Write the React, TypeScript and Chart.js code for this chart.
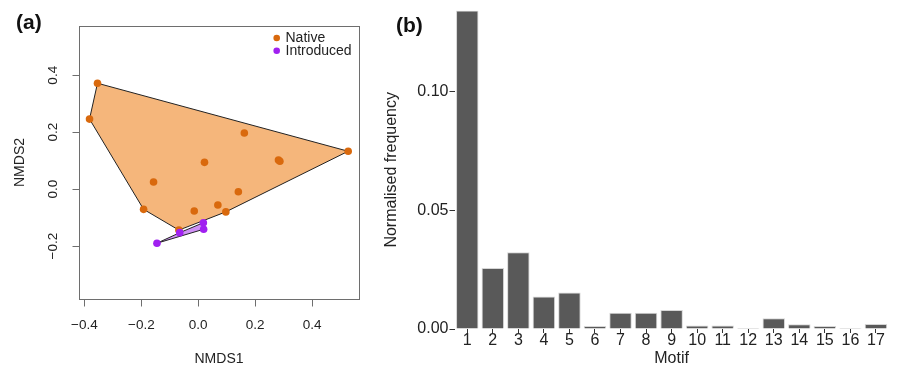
import React, { useEffect, useRef } from "react";
import { Chart, registerables } from "chart.js";

Chart.register(...registerables);

// ---------- Panel (a): NMDS ordination ----------
const nativeX = [-0.354, -0.382, 0.162, 0.022, 0.282, 0.287, 0.527, -0.157, 0.141, -0.192, -0.014, 0.069, 0.097, -0.068];
const nativeY = [0.372, 0.246, 0.197, 0.094, 0.102, 0.098, 0.133, 0.025, -0.009, -0.071, -0.077, -0.056, -0.080, -0.144];
const introX = [-0.145, -0.065, 0.018, 0.019];
const introY = [-0.19, -0.153, -0.118, -0.141];
const nmdsXTicks = [-0.4, -0.2, 0, 0.2, 0.4];
const nmdsYTicks = [-0.2, 0, 0.2, 0.4];
const nmdsXRange = [-0.419, 0.565];
const nmdsYRange = [-0.386, 0.573];
const groupNames = ["Native", "Introduced"];

// ---------- Panel (b): motif frequencies ----------
const motifs = ["1", "2", "3", "4", "5", "6", "7", "8", "9", "10", "11", "12", "13", "14", "15", "16", "17"];
const motifFreq = [0.134, 0.0257, 0.0323, 0.0137, 0.0154, 0.0013, 0.0068, 0.0068, 0.008, 0.0015, 0.0015, 0, 0.0045, 0.002, 0.0013, 0, 0.0021];
const freqTicks = [0, 0.05, 0.1];

const FONT = '"Liberation Sans", Arial, Helvetica, sans-serif';
const ORANGE = "#d9690d";
const ORANGE_FILL = "#f5b67b";
const PURPLE = "#a020f0";
const PURPLE_FILL = "#cf90f5";

type P = { x: number; y: number };

function convexHull(pts: P[]): P[] {
  const s = [...pts].sort((a, b) => (a.x === b.x ? a.y - b.y : a.x - b.x));
  const cross = (o: P, a: P, b: P) => (a.x - o.x) * (b.y - o.y) - (a.y - o.y) * (b.x - o.x);
  const lower: P[] = [];
  for (const p of s) {
    while (lower.length >= 2 && cross(lower[lower.length - 2], lower[lower.length - 1], p) <= 0) lower.pop();
    lower.push(p);
  }
  const upper: P[] = [];
  for (let i = s.length - 1; i >= 0; i--) {
    const p = s[i];
    while (upper.length >= 2 && cross(upper[upper.length - 2], upper[upper.length - 1], p) <= 0) upper.pop();
    upper.push(p);
  }
  const h = lower.slice(0, -1).concat(upper.slice(0, -1));
  h.push(h[0]);
  return h;
}

const fmtA = (t: number) => (t < -1e-9 ? "\u2212" : "") + Math.abs(t).toFixed(1);

const panelAPlugin = {
  id: "panelA",
  afterDraw(chart: any) {
    const { ctx, chartArea: a, scales } = chart;
    const xs = scales.x;
    const ys = scales.y;
    ctx.save();
    ctx.strokeStyle = "#6e6e6e";
    ctx.lineWidth = 1;
    const L = Math.round(a.left) + 0.5;
    const T = Math.round(a.top) + 0.5;
    const R = Math.round(a.right) + 0.5;
    const B = Math.round(a.bottom) + 0.5;
    ctx.strokeRect(L, T, R - L, B - T);

    // x axis
    ctx.beginPath();
    ctx.moveTo(xs.getPixelForValue(nmdsXTicks[0]), B);
    ctx.lineTo(xs.getPixelForValue(nmdsXTicks[nmdsXTicks.length - 1]), B);
    for (const t of nmdsXTicks) {
      const px = Math.round(xs.getPixelForValue(t)) + 0.5;
      ctx.moveTo(px, B);
      ctx.lineTo(px, B + 7);
    }
    // y axis
    ctx.moveTo(L, ys.getPixelForValue(nmdsYTicks[0]));
    ctx.lineTo(L, ys.getPixelForValue(nmdsYTicks[nmdsYTicks.length - 1]));
    for (const t of nmdsYTicks) {
      const py = Math.round(ys.getPixelForValue(t)) + 0.5;
      ctx.moveTo(L, py);
      ctx.lineTo(L - 7, py);
    }
    ctx.stroke();

    ctx.fillStyle = "#222";
    ctx.font = `13.5px ${FONT}`;
    ctx.textAlign = "center";
    ctx.textBaseline = "middle";
    for (const t of nmdsXTicks) ctx.fillText(fmtA(t), xs.getPixelForValue(t), a.bottom + 26);
    for (const t of nmdsYTicks) {
      ctx.save();
      ctx.translate(a.left - 26, ys.getPixelForValue(t));
      ctx.rotate(-Math.PI / 2);
      ctx.fillText(fmtA(t), 0, 0);
      ctx.restore();
    }

    // axis titles
    ctx.font = `14px ${FONT}`;
    ctx.fillText("NMDS1", (a.left + a.right) / 2, a.bottom + 60);
    ctx.save();
    ctx.translate(20, (a.top + a.bottom) / 2);
    ctx.rotate(-Math.PI / 2);
    ctx.fillText("NMDS2", 0, 0);
    ctx.restore();

    // legend
    const colors = [ORANGE, PURPLE];
    ctx.textAlign = "left";
    groupNames.forEach((name, i) => {
      const cy = a.top + 12 + i * 12.7;
      ctx.fillStyle = colors[i];
      ctx.beginPath();
      ctx.arc(a.right - 82.3, cy, 3.3, 0, Math.PI * 2);
      ctx.fill();
      ctx.fillStyle = "#222";
      ctx.fillText(name, a.right - 73.5, cy + 0.5);
    });

    // panel label
    ctx.font = `bold 21px ${FONT}`;
    ctx.fillStyle = "#111";
    ctx.fillText("(a)", 16, 23);
    ctx.restore();
  },
};

const panelBPlugin = {
  id: "panelB",
  afterDraw(chart: any) {
    const { ctx } = chart;
    ctx.save();
    ctx.font = `bold 21px ${FONT}`;
    ctx.fillStyle = "#111";
    ctx.textAlign = "left";
    ctx.textBaseline = "middle";
    ctx.fillText("(b)", 26, 26);
    ctx.restore();
  },
};

export default function App() {
  const refA = useRef<HTMLCanvasElement>(null);
  const refB = useRef<HTMLCanvasElement>(null);

  useEffect(() => {
    Chart.defaults.font.family = FONT;
    const nativePts = nativeX.map((x, i) => ({ x, y: nativeY[i] }));
    const introPts = introX.map((x, i) => ({ x, y: introY[i] }));

    const ca = new Chart(refA.current as HTMLCanvasElement, {
      type: "scatter",
      data: {
        datasets: [
          {
            label: groupNames[1],
            data: introPts,
            backgroundColor: PURPLE,
            borderColor: PURPLE,
            pointRadius: 3.8,
            pointBorderWidth: 0,
            order: 0,
          },
          {
            label: groupNames[0],
            data: nativePts,
            backgroundColor: ORANGE,
            borderColor: ORANGE,
            pointRadius: 3.8,
            pointBorderWidth: 0,
            order: 1,
          },
          {
            label: "introHull",
            data: convexHull(introPts),
            showLine: true,
            fill: "shape",
            backgroundColor: PURPLE_FILL,
            borderColor: "#222",
            borderWidth: 1,
            pointRadius: 0,
            tension: 0,
            order: 2,
          } as any,
          {
            label: "nativeHull",
            data: convexHull(nativePts),
            showLine: true,
            fill: "shape",
            backgroundColor: ORANGE_FILL,
            borderColor: "#222",
            borderWidth: 1,
            pointRadius: 0,
            tension: 0,
            order: 3,
          } as any,
        ],
      },
      options: {
        responsive: false,
        animation: false,
        devicePixelRatio: 1,
        layout: { padding: { left: 79, right: 11, top: 26, bottom: 68 } },
        plugins: { legend: { display: false }, tooltip: { enabled: false } },
        scales: {
          x: { type: "linear", min: nmdsXRange[0], max: nmdsXRange[1], display: false },
          y: { type: "linear", min: nmdsYRange[0], max: nmdsYRange[1], display: false },
        },
      },
      plugins: [panelAPlugin],
    });

    const cb = new Chart(refB.current as HTMLCanvasElement, {
      type: "bar",
      data: {
        labels: motifs,
        datasets: [
          {
            label: "Normalised frequency",
            data: motifFreq,
            backgroundColor: "#595959",
            borderColor: "#d6d6d6",
            borderWidth: 1,
            borderSkipped: "start",
            minBarLength: 1,
            barPercentage: 0.88,
            categoryPercentage: 1,
          },
        ],
      },
      options: {
        responsive: false,
        animation: false,
        devicePixelRatio: 1,
        layout: { padding: { left: 0, right: 15.3, top: 10, bottom: 0 } },
        plugins: { legend: { display: false }, tooltip: { enabled: false } },
        scales: {
          x: {
            type: "category",
            offset: true,
            border: { display: false },
            grid: { display: true, drawOnChartArea: false, drawTicks: true, tickLength: 4, color: "#333", offset: false },
            ticks: { color: "#222", font: { size: 16, lineHeight: 1 }, padding: 0, autoSkip: false, maxRotation: 0 },
            title: { display: true, text: "Motif", color: "#222", font: { size: 16, lineHeight: 1 }, padding: { top: 0, bottom: 0 } },
            afterFit: (s: any) => {
              s.height = 38;
            },
          },
          y: {
            type: "linear",
            min: 0,
            max: Math.max(...motifFreq),
            border: { display: false },
            grid: { display: true, drawOnChartArea: false, drawTicks: true, tickLength: 5, color: "#333" },
            afterBuildTicks: (s: any) => {
              s.ticks = freqTicks.map((v) => ({ value: v }));
            },
            ticks: { color: "#222", font: { size: 16 }, padding: 1, callback: (v: any) => Number(v).toFixed(2) },
            title: { display: true, text: "Normalised frequency", color: "#222", font: { size: 16, lineHeight: 1 }, padding: { top: 14, bottom: 0 } },
            afterFit: (s: any) => {
              s.width = 84.5;
            },
          },
        },
      },
      plugins: [panelBPlugin],
    });

    return () => {
      ca.destroy();
      cb.destroy();
    };
  }, []);

  return (
    <div style={{ position: "absolute", left: 0, top: 0, width: 904, height: 367, background: "#fff" }}>
      <canvas ref={refA} width={370} height={367} style={{ position: "absolute", left: 0, top: 0, width: 370, height: 367 }} />
      <canvas ref={refB} width={534} height={367} style={{ position: "absolute", left: 370, top: 0, width: 534, height: 367 }} />
    </div>
  );
}
